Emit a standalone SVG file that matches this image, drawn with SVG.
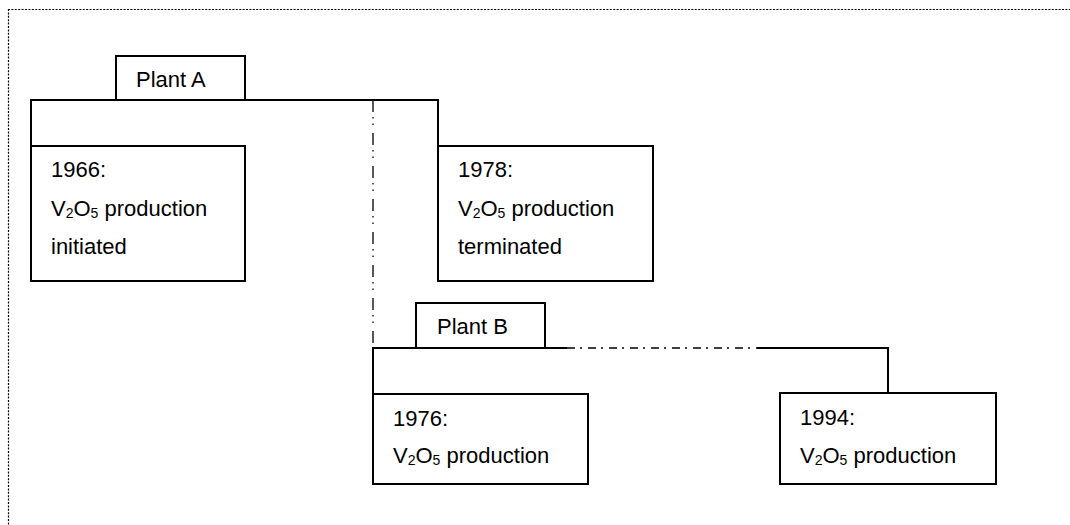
<svg xmlns="http://www.w3.org/2000/svg" width="1070" height="525" viewBox="0 0 1070 525">
  <style>
    .box { fill: #ffffff; stroke: #000000; stroke-width: 2; }
    .line { fill: none; stroke: #000000; stroke-width: 2; }
    .dashv { fill: none; stroke: #000000; stroke-width: 1.3; stroke-dasharray: 12 5 1.5 5 1.5 8; }
    .dashh { fill: none; stroke: #000000; stroke-width: 1.5; stroke-dasharray: 8 5 2 6; }
    .frame { fill: none; stroke: #000000; stroke-width: 1.2; stroke-dasharray: 2 1.4; }
    text { font-family: "Liberation Sans", Arial, sans-serif; font-size: 22px; fill: #000000; }
    .sub { font-size: 14px; }
  </style>
  <rect x="0" y="0" width="1070" height="525" fill="#ffffff"/>
  <g id="frame">
    <line class="frame" x1="8" y1="9.5" x2="1070" y2="9.5"/>
    <line class="frame" x1="8.5" y1="9" x2="8.5" y2="525"/>
  </g>
  <g id="connectors">
    <polyline class="line" points="31,146 31,100 438,100 438,146"/>
    <line class="dashv" x1="373" y1="100" x2="373" y2="348"/>
    <polyline class="line" points="373,394 373,348 567,348"/>
    <line class="dashh" x1="567" y1="348" x2="757" y2="348"/>
    <polyline class="line" points="757,348 888,348 888,393"/>
  </g>
  <g id="plantA">
    <rect class="box" x="116" y="56" width="129" height="44"/>
    <text x="136" y="87">Plant A</text>
  </g>
  <g id="n1966">
    <rect class="box" x="31" y="146" width="214" height="135"/>
    <text x="51" y="177">1966:</text>
    <text x="51" y="216">V<tspan class="sub" dy="2">2</tspan><tspan dy="-2">O</tspan><tspan class="sub" dy="2">5</tspan><tspan dy="-2"> production</tspan></text>
    <text x="51" y="254">initiated</text>
  </g>
  <g id="n1978">
    <rect class="box" x="438" y="146" width="215" height="135"/>
    <text x="458" y="177">1978:</text>
    <text x="458" y="216">V<tspan class="sub" dy="2">2</tspan><tspan dy="-2">O</tspan><tspan class="sub" dy="2">5</tspan><tspan dy="-2"> production</tspan></text>
    <text x="458" y="254">terminated</text>
  </g>
  <g id="plantB">
    <rect class="box" x="416" y="303" width="129" height="45"/>
    <text x="437" y="334">Plant B</text>
  </g>
  <g id="n1976">
    <rect class="box" x="373" y="394" width="215" height="90"/>
    <text x="393" y="426">1976:</text>
    <text x="393" y="463">V<tspan class="sub" dy="2">2</tspan><tspan dy="-2">O</tspan><tspan class="sub" dy="2">5</tspan><tspan dy="-2"> production</tspan></text>
  </g>
  <g id="n1994">
    <rect class="box" x="780" y="393" width="216" height="91"/>
    <text x="800" y="425">1994:</text>
    <text x="800" y="463">V<tspan class="sub" dy="2">2</tspan><tspan dy="-2">O</tspan><tspan class="sub" dy="2">5</tspan><tspan dy="-2"> production</tspan></text>
  </g>
</svg>
